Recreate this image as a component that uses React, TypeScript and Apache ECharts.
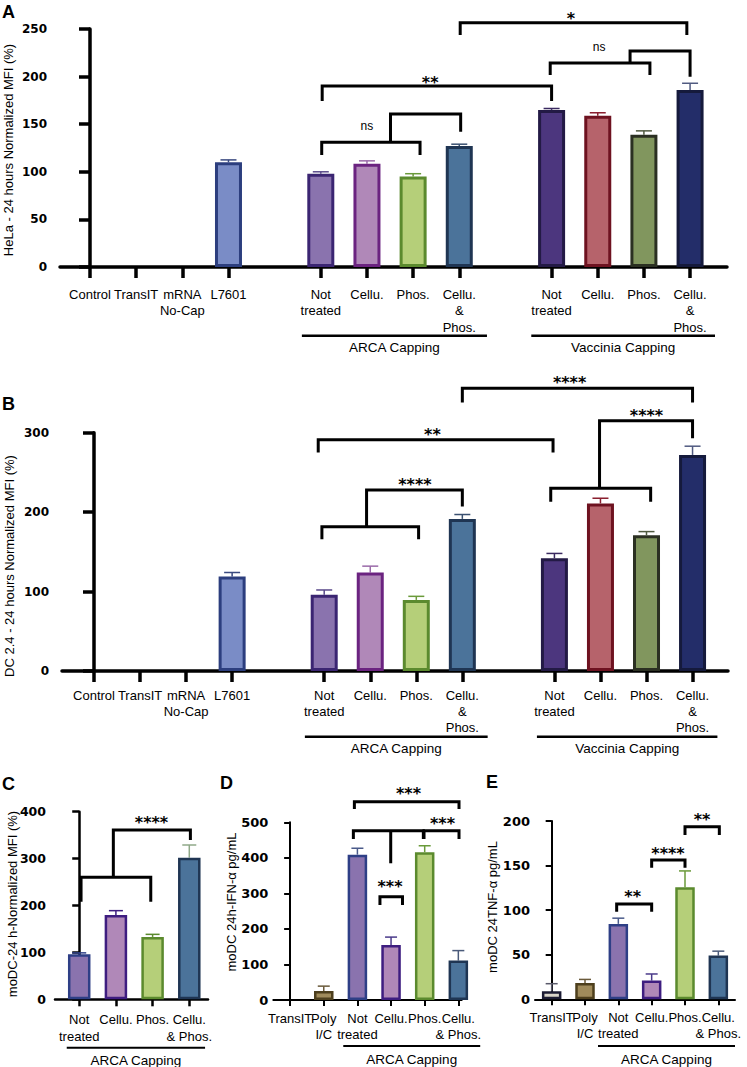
import React, { useEffect, useRef } from 'react';
import * as echarts from 'echarts';

const FONT = '"Liberation Sans", Arial, sans-serif';
const NUMFONT = '"DejaVu Sans", sans-serif';

// ---------------- Panel A : HeLa ----------------
const posA = [0, 1, 2, 3, 5, 6, 7, 8, 10, 11, 12, 13];
const catsA = ['Control', 'TransIT', 'mRNA\nNo-Cap', 'L7601', 'Not\ntreated', 'Cellu.', 'Phos.', 'Cellu.\n&\nPhos.', 'Not\ntreated', 'Cellu.', 'Phos.', 'Cellu.\n&\nPhos.'];
const valA = [0, 0, 0, 110, 98, 108.5, 95, 127, 165, 159, 139, 186];
const errA = [0, 0, 0, 2.5, 2, 3, 3, 2, 1.5, 3, 4, 7];
const bracketsA = [
  [5.02, 7.15, 131, 117.6, 117.6],
  [6.51, 8.03, 160.7, 131, 142],
  [5.03, 10.0, 190, 174.5, 174.5],
  [9.97, 12.13, 214.3, 201.7, 201.7],
  [11.7, 13.0, 226.9, 214.3, 199.9],
  [8.02, 12.93, 256.6, 243.7, 243.7],
];
const marksA: [number, number, string][] = [[6.0, 146.7, 'ns'], [7.37, 198, '**'], [11.03, 230.5, 'ns'], [10.42, 264.7, '*']];
const groupsA: [number, number, string][] = [[4.59, 8.6, 'ARCA Capping'], [9.56, 13.54, 'Vaccinia Capping']];

// ---------------- Panel B : DC 2.4 ----------------
const posB = [0, 1, 2, 3, 5, 6, 7, 8, 10, 11, 12, 13];
const catsB = catsA;
const valB = [0, 0, 0, 119, 96, 124, 89.5, 191.5, 142, 211, 171, 272];
const errB = [0, 0, 0, 5, 6, 8, 4.5, 5.5, 6, 6.5, 4.5, 11];
const bracketsB = [
  [4.95, 7.05, 181.7, 165.9, 165.9],
  [5.92, 8.0, 228, 181.7, 207],
  [4.87, 9.97, 291, 275, 275],
  [9.92, 12.09, 230, 213.2, 213.2],
  [10.98, 13.0, 315.2, 230, 293],
  [8.0, 13.0, 356, 338, 338],
];
const marksB: [number, number, string][] = [[6.97, 239.7, '****'], [7.35, 302.6, '**'], [12.0, 326.6, '****'], [10.33, 367.8, '****']];
const groupsB: [number, number, string][] = [[4.58, 8.55, 'ARCA Capping'], [9.62, 13.54, 'Vaccinia Capping']];

// ---------------- Panel C : moDC MFI ----------------
const posC = [0, 1, 2, 3];
const catsC = ['Not\ntreated', 'Cellu.', 'Phos.', 'Cellu.\n& Phos.'];
const valC = [96, 180, 133, 302];
const errC = [3, 9, 5.5, 27];
const bracketsC = [[0.05, 1.95, 260, 208, 208], [0.93, 3.03, 361, 260, 339.7]];
const marksC: [number, number, string][] = [[1.97, 384.4, '****']];
const groupsC: [number, number, string][] = [[-0.34, 3.43, 'ARCA Capping']];

// ---------------- Panel D : IFN-alpha ----------------
const posD = [0, 1, 2, 3, 4, 5];
const catsD = ['TransIT', 'Poly\nI/C', 'Not\ntreated', 'Cellu.', 'Phos.', 'Cellu.\n& Phos.'];
const valD = [0, 25, 409, 155, 416, 111];
const errD = [0, 14, 18, 22, 18, 28];
const bracketsD = [
  [1.91, 5.02, 558, 537.6, 537.6],
  [1.88, 3.96, 476.5, 453, 453],
  [2.99, 2.99, 476.5, 384.7, 476.5],
  [2.67, 3.34, 290.7, 267.4, 267.4],
  [3.98, 5.02, 476.5, 453, 453],
];
const marksD: [number, number, string][] = [[3.52, 591, '***'], [2.97, 330, '***'], [4.53, 506.6, '***']];
const groupsD: [number, number, string][] = [[1.58, 5.65, 'ARCA Capping']];

// ---------------- Panel E : TNF-alpha ----------------
const posE = [0, 1, 2, 3, 4, 5];
const catsE = catsD;
const valE = [9, 18.3, 84.6, 21, 125.6, 49];
const errE = [8.5, 4, 6.4, 7.4, 18.4, 5];
const bracketsE = [
  [1.95, 3.0, 106.9, 98.2, 98.2],
  [3.0, 4.0, 156.2, 147.6, 147.6],
  [4.0, 5.03, 193.6, 184.3, 184.3],
];
const marksE: [number, number, string][] = [[2.43, 119.5, '**'], [3.49, 167.4, '****'], [4.51, 205.6, '**']];
const groupsE: [number, number, string][] = [[1.39, 5.5, 'ARCA Capping']];

// ---------------- colours ----------------
const fillAB = ['#ffffff', '#ffffff', '#ffffff', '#7a8cc6', '#8a73ae', '#b088b8', '#b5cf79', '#4b739a', '#4c367e', '#b6636b', '#81965e', '#232d69'];
const borderAB = ['#000', '#000', '#000', '#2c3e7e', '#3b2572', '#6b2380', '#5b8a2e', '#1f3553', '#231a45', '#6e1220', '#2b3022', '#151a3c'];
const errColAB = ['#000', '#000', '#000', '#3a4a80', '#5a4a8a', '#9a6aa8', '#6a9a3a', '#3a5070', '#3a2a60', '#8a2030', '#505a40', '#505a80'];
const fillC = ['#8a73ae', '#b088b8', '#b5cf79', '#4b739a'];
const borderC = ['#2e3f86', '#3e1d80', '#5b8a2e', '#1f3553'];
const errColC = ['#2e3f86', '#3e1d80', '#5b8a2e', '#8fa888'];
const fillDE = ['#d9d5c9', '#a08b5b', '#8a73ae', '#b088b8', '#b5cf79', '#4b739a'];
const borderDE = ['#1b1b33', '#4d3f1d', '#2e3f86', '#3e1d80', '#5b8a2e', '#1f3553'];
const errColDE = ['#5a5a6a', '#6a5a3a', '#4a5a8a', '#4a3a8a', '#6a9a3a', '#4a5a7a'];

const panels = [
  { grid: { left: 60, top: 29, width: 667, height: 238 }, xMin: -0.65, xMax: 13.8, yMax: 250, yInt: 50,
    pos: posA, cats: catsA, vals: valA, errs: errA, fills: fillAB, borders: borderAB, errCols: errColAB,
    brackets: bracketsA, marks: marksA, groups: groupsA,
    axisW: 3.5, tickLen: 11, yFont: 12, yMargin: 13, xMargin: 19, xLH: 16.5, xFont: 13, barW: 27, barB: 3, capW: 16,
    gLine: 68.7, gText: 80.3, gW: 2.5, bW: 3 },
  { grid: { left: 62, top: 432.7, width: 666, height: 238.3 }, xMin: -0.695, xMax: 13.77, yMax: 300, yInt: 100,
    pos: posB, cats: catsB, vals: valB, errs: errB, fills: fillAB, borders: borderAB, errCols: errColAB,
    brackets: bracketsB, marks: marksB, groups: groupsB,
    axisW: 3.5, tickLen: 11, yFont: 12, yMargin: 13, xMargin: 16, xLH: 16, xFont: 13, barW: 27, barB: 3, capW: 16,
    gLine: 65.7, gText: 77.3, gW: 2.5, bW: 3 },
  { grid: { left: 55, top: 811.7, width: 153, height: 187.6 }, xMin: -0.66, xMax: 3.51, yMax: 400, yInt: 100,
    pos: posC, cats: catsC, vals: valC, errs: errC, fills: fillC, borders: borderC, errCols: errColC,
    brackets: bracketsC, marks: marksC, groups: groupsC,
    axisW: 2.5, tickLen: 7, yFont: 12.5, yMargin: 9, xMargin: 12, xLH: 16.5, xFont: 13, barW: 22.5, barB: 2.5, capW: 14,
    gLine: 48.4, gText: 60.7, gW: 2, bW: 3 },
  { grid: { left: 273.3, top: 822.3, width: 188.4, height: 177.7 }, xMin: -0.5, xMax: 5.1, yMax: 500, yInt: 100,
    pos: posD, cats: catsD, vals: valD, errs: errD, fills: fillDE, borders: borderDE, errCols: errColDE,
    brackets: bracketsD, marks: marksD, groups: groupsD,
    axisW: 2, tickLen: 6, yFont: 13, yMargin: 5, xMargin: 10, xLH: 16, xFont: 13, barW: 19.5, barB: 2.5, capW: 12,
    gLine: 46, gText: 59.3, gW: 2, bW: 3 },
  { grid: { left: 535, top: 821, width: 200, height: 178.3 }, xMin: -0.5, xMax: 5.5, yMax: 200, yInt: 50,
    pos: posE, cats: catsE, vals: valE, errs: errE, fills: fillDE, borders: borderDE, errCols: errColDE,
    brackets: bracketsE, marks: marksE, groups: groupsE,
    axisW: 2, tickLen: 6, yFont: 13, yMargin: 5, xMargin: 10, xLH: 16, xFont: 13, barW: 19.5, barB: 2.5, capW: 12,
    gLine: 46.7, gText: 60, gW: 2, bW: 3 },
];

const letters: [string, number, number][] = [['A', 2, 12], ['B', 2, 404], ['C', 2, 783.5], ['D', 220, 782.5], ['E', 486, 782]];
const yTitles: [string, number, number][] = [
  ['HeLa - 24 hours Normalized MFI (%)', 8, 150],
  ['DC 2.4 - 24 hours Normalized MFI (%)', 9, 566],
  ['moDC-24 h-Normalized MFI (%)', 12.5, 904],
  ['moDC 24h-IFN-\u03b1 pg/mL', 231, 902],
  ['moDC 24TNF-\u03b1 pg/mL', 492, 907],
];

function txtStyle(text: string, size: number, family: string, vAlign = 'middle', lineHeight?: number, weight = 'normal') {
  const s: any = {
    text, fill: '#000', fontSize: size, fontFamily: family, fontWeight: weight,
    textAlign: 'center', textVerticalAlign: vAlign, align: 'center', verticalAlign: vAlign,
  };
  if (lineHeight) s.lineHeight = lineHeight;
  return s;
}

function buildOption() {
  const grid: any[] = [];
  const xAxis: any[] = [];
  const yAxis: any[] = [];
  const series: any[] = [];
  const n = panels.length;
  panels.forEach((p, i) => {
    grid.push({ ...p.grid, containLabel: false, outerBoundsMode: 'none' });
    xAxis.push({
      type: 'value', gridIndex: i, min: p.xMin, max: p.xMax,
      axisLine: { show: true, onZero: false, lineStyle: { color: '#000', width: p.axisW } },
      axisTick: { show: false },
      axisLabel: { show: false },
      splitLine: { show: false },
    });
    yAxis.push({
      type: 'value', gridIndex: i, min: 0, max: p.yMax, interval: p.yInt,
      axisLine: { show: true, lineStyle: { color: '#000', width: p.axisW } },
      axisTick: { show: true, length: p.tickLen, lineStyle: { color: '#000', width: p.axisW } },
      axisLabel: { color: '#000', fontFamily: NUMFONT, fontWeight: 'bold', fontSize: p.yFont, margin: p.yMargin, showMinLabel: true, showMaxLabel: true },
      splitLine: { show: false },
    });
    // bars
    series.push({
      type: 'bar', xAxisIndex: i, yAxisIndex: i, barWidth: p.barW, z: 3, silent: true,
      data: p.pos.map((x, k) => ({
        value: [x, p.vals[k]],
        itemStyle: { color: p.fills[k], borderColor: p.borders[k], borderWidth: p.barB },
      })).filter((d) => d.value[1] > 0),
    });
    // category labels under the x axis
    series.push({
      type: 'custom', xAxisIndex: i, yAxisIndex: i, z: 4, silent: true, clip: false,
      data: p.pos.map((x, k) => [x, 0, k]),
      renderItem: (params: any, api: any) => {
        const k = api.value(2);
        const c = api.coord([api.value(0), 0]);
        return { type: 'text', x: c[0], y: c[1] + p.xMargin, style: txtStyle(p.cats[k], p.xFont, FONT, 'top', p.xLH) };
      },
    });
    // error bars
    const errData = p.pos.map((x, k) => [x, p.vals[k], p.errs[k], k]).filter((d) => d[2] > 0);
    series.push({
      type: 'custom', xAxisIndex: i, yAxisIndex: i, z: 2, silent: true, clip: false,
      data: errData,
      renderItem: (_params: any, api: any) => {
        const x = api.value(0), v = api.value(1), e = api.value(2), k = api.value(3);
        const b = api.coord([x, v]);
        const t = api.coord([x, v + e]);
        const c = p.errCols[k];
        return {
          type: 'group', children: [
            { type: 'line', shape: { x1: b[0], y1: b[1], x2: t[0], y2: t[1] }, style: { stroke: c, lineWidth: 1.5 } },
            { type: 'line', shape: { x1: t[0] - p.capW / 2, y1: t[1], x2: t[0] + p.capW / 2, y2: t[1] }, style: { stroke: c, lineWidth: 1.5 } },
          ],
        };
      },
    });
    // significance brackets
    series.push({
      type: 'custom', xAxisIndex: i, yAxisIndex: i, z: 4, silent: true, clip: false,
      data: p.brackets,
      renderItem: (_params: any, api: any) => {
        const x1 = api.value(0), x2 = api.value(1), yt = api.value(2), yl = api.value(3), yr = api.value(4);
        const pts = [api.coord([x1, yl]), api.coord([x1, yt]), api.coord([x2, yt]), api.coord([x2, yr])];
        return { type: 'polyline', shape: { points: pts }, style: { stroke: '#000', lineWidth: p.bW, fill: null, lineJoin: 'miter' } };
      },
    });
    // significance marks
    series.push({
      type: 'custom', xAxisIndex: i, yAxisIndex: i, z: 4, silent: true, clip: false,
      data: p.marks.map((m) => [m[0], m[1]]),
      renderItem: (params: any, api: any) => {
        const s = p.marks[params.dataIndex][2];
        const c = api.coord([api.value(0), api.value(1)]);
        const isStar = s.indexOf('*') >= 0;
        const size = isStar ? 16 : 12;
        return {
          type: 'text', x: c[0], y: c[1] + (isStar ? size * 0.23 : -1),
          style: txtStyle(s, size, isStar ? NUMFONT : FONT, 'middle', undefined, isStar ? 'bold' : 'normal'),
        };
      },
    });
    // group underlines
    series.push({
      type: 'custom', xAxisIndex: i, yAxisIndex: i, z: 4, silent: true, clip: false,
      data: p.groups.map((g) => [g[0], g[1]]),
      renderItem: (params: any, api: any) => {
        const s = p.groups[params.dataIndex][2];
        const a = api.coord([api.value(0), 0]);
        const b = api.coord([api.value(1), 0]);
        return {
          type: 'group', children: [
            { type: 'line', shape: { x1: a[0], y1: a[1] + p.gLine, x2: b[0], y2: b[1] + p.gLine }, style: { stroke: '#000', lineWidth: p.gW } },
            { type: 'text', x: (a[0] + b[0]) / 2, y: a[1] + p.gText, style: txtStyle(s, 13.5, FONT) },
          ],
        };
      },
    });
  });

  // overlay grids carrying a category axis whose native ticks mark each category position
  panels.forEach((p, i) => {
    const last = p.pos[p.pos.length - 1];
    const unit = p.grid.width / (p.xMax - p.xMin);
    const slots = Array.from({ length: last + 1 }, (_, s) => String(s));
    grid.push({
      left: p.grid.left + (0 - p.xMin) * unit, top: p.grid.top,
      width: last * unit, height: p.grid.height, containLabel: false, outerBoundsMode: 'none',
    });
    xAxis.push({
      type: 'category', gridIndex: n + i, data: slots, boundaryGap: false,
      axisLine: { show: false },
      axisTick: {
        show: true, length: p.tickLen, lineStyle: { color: '#000', width: p.axisW },
        interval: (idx: number) => p.pos.indexOf(idx) >= 0,
      },
      axisLabel: { show: false },
      splitLine: { show: false },
    });
    yAxis.push({ type: 'value', gridIndex: n + i, min: 0, max: 1, show: false });
  });

  const graphic: any[] = [];
  letters.forEach(([t, x, y]) => {
    graphic.push({ type: 'text', x, y, silent: true, style: { text: t, fill: '#000', fontSize: 18, fontWeight: 'bold', fontFamily: FONT, textAlign: 'left', align: 'left', textVerticalAlign: 'middle', verticalAlign: 'middle' } });
  });
  yTitles.forEach(([t, x, y]) => {
    graphic.push({ type: 'text', x, y, rotation: Math.PI / 2, silent: true, style: txtStyle(t, 13, FONT) });
  });

  return {
    animation: false,
    backgroundColor: '#ffffff',
    grid, xAxis, yAxis, series, graphic,
  };
}

export default function App() {
  const ref = useRef<HTMLDivElement>(null);
  useEffect(() => {
    if (!ref.current) return;
    const chart = echarts.init(ref.current, undefined, { renderer: 'svg' });
    chart.setOption(buildOption() as any);
    return () => chart.dispose();
  }, []);
  return <div ref={ref} style={{ position: 'absolute', left: 0, top: 0, width: 747, height: 1067 }} />;
}
